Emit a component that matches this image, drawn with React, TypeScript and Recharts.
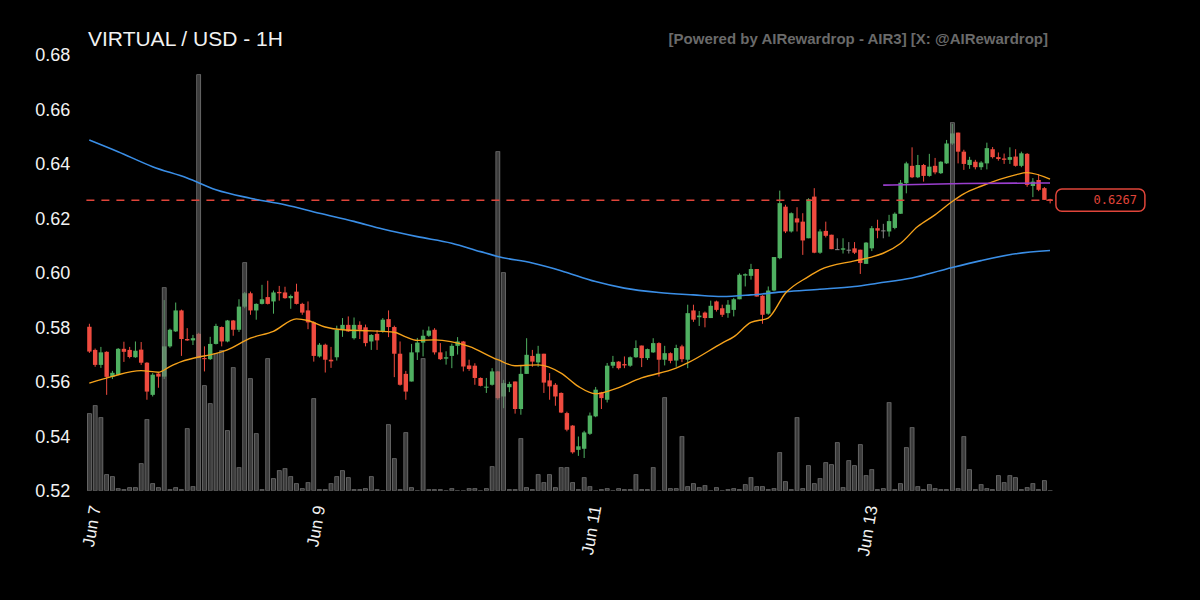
import React from "react";
import { ComposedChart, Bar, Line, XAxis, YAxis, ReferenceLine } from "recharts";

// ---- data (hourly candles, VIRTUAL / USD) ----
const opens = [
  0.5802, 0.5717, 0.5662, 0.5710, 0.5618, 0.5626, 0.5721, 0.5717, 0.5690, 0.5718,
  0.5670, 0.5552, 0.5630, 0.5619, 0.5730, 0.5785, 0.5862, 0.5757, 0.5752, 0.5776,
  0.5687, 0.5683, 0.5739, 0.5801, 0.5748, 0.5825, 0.5791, 0.5876, 0.5925, 0.5862,
  0.5886, 0.5911, 0.5895, 0.5930, 0.5928, 0.5907, 0.5931, 0.5886, 0.5862, 0.5818,
  0.5693, 0.5736, 0.5681, 0.5690, 0.5791, 0.5809, 0.5760, 0.5809, 0.5800, 0.5748,
  0.5776, 0.5785, 0.5830, 0.5801, 0.5703, 0.5629, 0.5601, 0.5708, 0.5744, 0.5769,
  0.5791, 0.5708, 0.5685, 0.5695, 0.5732, 0.5748, 0.5660, 0.5659, 0.5614, 0.5579,
  0.5589, 0.5638, 0.5546, 0.5580, 0.5601, 0.5500, 0.5629, 0.5695, 0.5671, 0.5703,
  0.5605, 0.5589, 0.5559, 0.5485, 0.5439, 0.5350, 0.5354, 0.5409, 0.5473, 0.5561,
  0.5534, 0.5659, 0.5674, 0.5665, 0.5659, 0.5690, 0.5733, 0.5687, 0.5708, 0.5742,
  0.5681, 0.5705, 0.5678, 0.5730, 0.5681, 0.5862, 0.5837, 0.5854, 0.5834, 0.5895,
  0.5870, 0.5852, 0.5864, 0.5903, 0.5990, 0.5989, 0.6014, 0.5916, 0.5850, 0.5935,
  0.6054, 0.6243, 0.6152, 0.6200, 0.6188, 0.6127, 0.6280, 0.6074, 0.6154, 0.6140,
  0.6087, 0.6085, 0.6085, 0.6090, 0.6085, 0.6033, 0.6090, 0.6164, 0.6156, 0.6152,
  0.6165, 0.6217, 0.6329, 0.6393, 0.6351, 0.6396, 0.6356, 0.6393, 0.6366, 0.6402,
  0.6475, 0.6515, 0.6445, 0.6396, 0.6408, 0.6388, 0.6402, 0.6454, 0.6425, 0.6420,
  0.6415, 0.6427, 0.6393, 0.6437, 0.6319, 0.6341, 0.6311, 0.6270,
];
const highs = [
  0.5813, 0.5722, 0.5728, 0.5712, 0.5640, 0.5724, 0.5747, 0.5728, 0.5748, 0.5746,
  0.5672, 0.5632, 0.5632, 0.5900, 0.5795, 0.5891, 0.5865, 0.5797, 0.5772, 0.5780,
  0.5730, 0.5765, 0.5813, 0.5803, 0.5827, 0.5827, 0.5903, 0.5930, 0.5931, 0.5888,
  0.5956, 0.5971, 0.5935, 0.5952, 0.5949, 0.5920, 0.5960, 0.5890, 0.5895, 0.5822,
  0.5742, 0.5740, 0.5728, 0.5806, 0.5834, 0.5840, 0.5836, 0.5822, 0.5810, 0.5775,
  0.5790, 0.5834, 0.5862, 0.5806, 0.5748, 0.5640, 0.5739, 0.5761, 0.5791, 0.5803,
  0.5797, 0.5742, 0.5712, 0.5740, 0.5764, 0.5750, 0.5681, 0.5668, 0.5616, 0.5614,
  0.5650, 0.5640, 0.5607, 0.5600, 0.5601, 0.5662, 0.5760, 0.5717, 0.5732, 0.5703,
  0.5632, 0.5595, 0.5561, 0.5490, 0.5441, 0.5399, 0.5420, 0.5487, 0.5581, 0.5563,
  0.5669, 0.5695, 0.5676, 0.5693, 0.5693, 0.5752, 0.5733, 0.5722, 0.5760, 0.5745,
  0.5732, 0.5708, 0.5736, 0.5736, 0.5883, 0.5883, 0.5860, 0.5858, 0.5898, 0.5898,
  0.5883, 0.5900, 0.5908, 0.5998, 0.5998, 0.6033, 0.6014, 0.5918, 0.5950, 0.6058,
  0.6302, 0.6250, 0.6222, 0.6241, 0.6219, 0.6274, 0.6311, 0.6160, 0.6188, 0.6140,
  0.6127, 0.6127, 0.6113, 0.6113, 0.6085, 0.6113, 0.6172, 0.6195, 0.6180, 0.6213,
  0.6222, 0.6341, 0.6408, 0.6461, 0.6433, 0.6400, 0.6437, 0.6422, 0.6410, 0.6488,
  0.6547, 0.6515, 0.6452, 0.6426, 0.6415, 0.6410, 0.6478, 0.6462, 0.6442, 0.6438,
  0.6461, 0.6454, 0.6445, 0.6440, 0.6348, 0.6363, 0.6315, 0.6272,
];
const lows = [
  0.5706, 0.5655, 0.5651, 0.5552, 0.5610, 0.5624, 0.5673, 0.5686, 0.5688, 0.5662,
  0.5534, 0.5546, 0.5578, 0.5610, 0.5725, 0.5783, 0.5695, 0.5750, 0.5735, 0.5687,
  0.5638, 0.5680, 0.5737, 0.5730, 0.5745, 0.5769, 0.5783, 0.5870, 0.5846, 0.5828,
  0.5884, 0.5884, 0.5850, 0.5898, 0.5905, 0.5868, 0.5884, 0.5846, 0.5793, 0.5674,
  0.5689, 0.5634, 0.5651, 0.5678, 0.5765, 0.5783, 0.5755, 0.5757, 0.5730, 0.5717,
  0.5717, 0.5780, 0.5764, 0.5617, 0.5586, 0.5534, 0.5601, 0.5680, 0.5693, 0.5765,
  0.5700, 0.5680, 0.5663, 0.5650, 0.5700, 0.5638, 0.5640, 0.5589, 0.5583, 0.5559,
  0.5586, 0.5534, 0.5503, 0.5562, 0.5483, 0.5479, 0.5629, 0.5655, 0.5655, 0.5559,
  0.5534, 0.5512, 0.5485, 0.5418, 0.5336, 0.5328, 0.5320, 0.5405, 0.5470, 0.5500,
  0.5524, 0.5650, 0.5645, 0.5650, 0.5655, 0.5688, 0.5654, 0.5680, 0.5706, 0.5619,
  0.5660, 0.5668, 0.5655, 0.5672, 0.5650, 0.5820, 0.5805, 0.5800, 0.5834, 0.5858,
  0.5838, 0.5835, 0.5840, 0.5903, 0.5950, 0.5975, 0.5913, 0.5813, 0.5846, 0.5932,
  0.6050, 0.6146, 0.6148, 0.6152, 0.6066, 0.6127, 0.6072, 0.6070, 0.6130, 0.6087,
  0.6085, 0.6071, 0.6071, 0.6069, 0.5996, 0.6033, 0.6080, 0.6127, 0.6127, 0.6133,
  0.6160, 0.6217, 0.6292, 0.6348, 0.6348, 0.6335, 0.6353, 0.6362, 0.6363, 0.6400,
  0.6470, 0.6402, 0.6378, 0.6382, 0.6380, 0.6378, 0.6380, 0.6420, 0.6412, 0.6400,
  0.6400, 0.6390, 0.6388, 0.6316, 0.6278, 0.6300, 0.6268, 0.6255,
];
const closes = [
  0.5711, 0.5662, 0.5708, 0.5618, 0.5633, 0.5721, 0.5710, 0.5691, 0.5714, 0.5670,
  0.5564, 0.5626, 0.5619, 0.5730, 0.5791, 0.5862, 0.5757, 0.5752, 0.5760, 0.5687,
  0.5683, 0.5739, 0.5805, 0.5748, 0.5825, 0.5791, 0.5876, 0.5925, 0.5862, 0.5886,
  0.5903, 0.5886, 0.5928, 0.5925, 0.5907, 0.5915, 0.5886, 0.5854, 0.5818, 0.5695,
  0.5736, 0.5681, 0.5675, 0.5791, 0.5809, 0.5785, 0.5809, 0.5791, 0.5742, 0.5772,
  0.5752, 0.5828, 0.5801, 0.5703, 0.5589, 0.5564, 0.5708, 0.5744, 0.5769, 0.5788,
  0.5708, 0.5683, 0.5690, 0.5732, 0.5748, 0.5656, 0.5647, 0.5614, 0.5585, 0.5582,
  0.5638, 0.5540, 0.5595, 0.5592, 0.5500, 0.5629, 0.5699, 0.5674, 0.5703, 0.5597,
  0.5583, 0.5546, 0.5487, 0.5424, 0.5341, 0.5363, 0.5414, 0.5476, 0.5571, 0.5540,
  0.5659, 0.5673, 0.5650, 0.5660, 0.5690, 0.5724, 0.5687, 0.5720, 0.5742, 0.5681,
  0.5705, 0.5677, 0.5724, 0.5683, 0.5852, 0.5828, 0.5843, 0.5834, 0.5879, 0.5864,
  0.5846, 0.5883, 0.5903, 0.5993, 0.5995, 0.6014, 0.5913, 0.5846, 0.5935, 0.6058,
  0.6256, 0.6152, 0.6219, 0.6185, 0.6119, 0.6270, 0.6074, 0.6152, 0.6136, 0.6087,
  0.6087, 0.6090, 0.6085, 0.6074, 0.6036, 0.6111, 0.6164, 0.6155, 0.6156, 0.6190,
  0.6217, 0.6331, 0.6402, 0.6351, 0.6396, 0.6356, 0.6390, 0.6369, 0.6408, 0.6475,
  0.6512, 0.6445, 0.6400, 0.6415, 0.6388, 0.6405, 0.6458, 0.6425, 0.6418, 0.6415,
  0.6425, 0.6393, 0.6439, 0.6323, 0.6335, 0.6305, 0.6268, 0.6267,
];
const volumes = [
  77, 85, 73, 16, 14, 2, 1, 3, 3, 27,
  71, 7, 3, 203, 1, 3, 1, 62, 4, 416,
  105, 87, 137, 140, 60, 123, 23, 228, 112, 57,
  1, 132, 12, 20, 22, 14, 7, 2, 8, 92,
  1, 1, 7, 14, 20, 13, 1, 1, 2, 14,
  1, 0, 66, 32, 1, 58, 3, 0, 132, 1,
  1, 1, 0, 2, 0, 0, 2, 2, 0, 2,
  24, 339, 218, 1, 1, 52, 3, 1, 16, 8,
  16, 3, 23, 23, 8, 1, 13, 4, 0, 1,
  2, 0, 2, 1, 1, 16, 1, 1, 23, 0,
  93, 2, 2, 54, 4, 7, 3, 5, 0, 3,
  0, 1, 2, 1, 6, 13, 4, 4, 1, 2,
  38, 9, 1, 73, 2, 25, 7, 12, 28, 26,
  48, 3, 30, 25, 46, 15, 21, 1, 2, 88,
  1, 7, 43, 63, 4, 1, 6, 2, 1, 1,
  368, 2, 54, 21, 1, 6, 2, 1, 15, 8,
  15, 13, 1, 3, 7, 1, 10, 0,
];
// [candle index, value] samples
const emaPoints: [number, number][] = [
  [0, 0.5595], [4, 0.562], [9, 0.5641], [12, 0.5635], [14, 0.5656], [16, 0.5674],
  [19, 0.5691], [21, 0.5699], [24, 0.5717], [28, 0.576], [32, 0.5785], [36, 0.5831],
  [38, 0.5825], [41, 0.5801], [44, 0.5791], [49, 0.5787], [53, 0.5782], [55, 0.5765],
  [57, 0.5752], [60, 0.5754], [66, 0.573], [71, 0.5681], [74, 0.5659], [78, 0.5662],
  [82, 0.5632], [85, 0.5583], [88, 0.5556], [91, 0.5571], [96, 0.5614], [102, 0.565],
  [104, 0.5669], [110, 0.5742], [112, 0.5765], [115, 0.5818], [118, 0.5834], [121, 0.5925],
  [125, 0.5986], [127, 0.6011], [133, 0.6044], [136, 0.6058], [138, 0.6072], [141, 0.6108],
  [144, 0.617], [147, 0.6213], [150, 0.6262], [152, 0.629], [155, 0.6318], [161, 0.636],
  [163, 0.6368], [167, 0.6344],
];
const smaPoints: [number, number][] = [
  [0, 0.6488], [5, 0.6445], [11, 0.639], [17, 0.6348], [22, 0.6305], [28, 0.6274],
  [34, 0.625], [40, 0.6219], [46, 0.6189], [51, 0.6161], [57, 0.6133], [63, 0.6109],
  [68, 0.6078], [71, 0.606], [77, 0.6036], [82, 0.6008], [88, 0.5968], [93, 0.5944],
  [99, 0.5928], [105, 0.5919], [110, 0.5913], [115, 0.5919], [121, 0.5931], [127, 0.594],
  [133, 0.595], [137, 0.5962], [143, 0.5981], [149, 0.6014], [155, 0.6045], [161, 0.607],
  [167, 0.6082],
];
const levelPoints: [number, number][] = [[138, 0.6322], [152, 0.6328], [167, 0.633]];
const tickIndex = [1, 40, 88, 136];
const tickLabels = ["Jun 7", "Jun 9", "Jun 11", "Jun 13"];
const priceTicks = [0.52, 0.54, 0.56, 0.58, 0.6, 0.62, 0.64, 0.66, 0.68];
const lastPrice = 0.6267;

const GREEN = "#4fb061";
const RED = "#ef4b3f";
const DOJI = "#8a8a8a";
const FONT = "'Liberation Sans', Arial, Helvetica, sans-serif";

const emaMap = new Map(emaPoints);
const smaMap = new Map(smaPoints);
const levelMap = new Map(levelPoints);

const data = opens.map((o, i) => ({
  i,
  open: o,
  high: highs[i],
  low: lows[i],
  close: closes[i],
  range: [lows[i], highs[i]],
  vol: volumes[i],
  ema: emaMap.has(i) ? emaMap.get(i) : null,
  sma: smaMap.has(i) ? smaMap.get(i) : null,
  level: levelMap.has(i) ? levelMap.get(i) : null,
}));

const Candle = (props: any) => {
  const { x, y, width, height, payload } = props;
  if (x == null || y == null || !payload) return null;
  const top = Math.min(y, y + height);
  const h = Math.abs(height);
  const { open, close, high, low } = payload;
  const k = h / (high - low || 1);
  const yO = top + (high - open) * k;
  const yC = top + (high - close) * k;
  const cx = x + width / 2;
  const color = close > open ? GREEN : close < open ? RED : DOJI;
  const bTop = Math.min(yO, yC);
  const bH = Math.max(1, Math.abs(yC - yO));
  return (
    <g>
      <line x1={cx} x2={cx} y1={top} y2={top + h} stroke={color} strokeWidth={1} />
      <rect x={cx - 2.2} y={bTop} width={4.4} height={bH} fill={color} />
    </g>
  );
};

const VolBar = (props: any) => {
  const { x, y, width, height } = props;
  if (x == null || y == null) return null;
  const h = Math.max(Math.abs(height || 0), 0.8);
  const top = Math.min(y, y + (height || 0));
  return (
    <rect
      x={x + width / 2 - 2}
      y={top}
      width={4}
      height={h}
      fill="rgba(110,110,110,0.55)"
      stroke="rgba(165,165,165,0.7)"
      strokeWidth={0.7}
    />
  );
};

const DateTick = (props: any) => {
  const { x, y, payload } = props;
  const idx = tickIndex.indexOf(payload.value);
  const label = idx >= 0 ? tickLabels[idx] : "";
  return (
    <g transform={`translate(${x},${y + 15})`}>
      <text
        transform="rotate(-80)"
        textAnchor="end"
        dy="0.35em"
        fill="#f2f2f2"
        fontSize={17}
        fontFamily={FONT}
      >
        {label}
      </text>
    </g>
  );
};

const PriceTag = (props: any) => {
  const vb = props.viewBox || {};
  const right = (vb.x || 0) + (vb.width || 0);
  const ly = vb.y || 0;
  const bx = right + 3;
  return (
    <g>
      <rect x={bx} y={ly - 11.2} width={89} height={22.4} rx={6} ry={6} fill="#000" stroke="#e0453a" strokeWidth={1.5} />
      <text
        x={bx + 81}
        y={ly}
        dy="0.35em"
        textAnchor="end"
        fill="#e0453a"
        fontSize={12}
        fontFamily="'DejaVu Sans Mono', monospace"
      >
        {lastPrice.toFixed(4)}
      </text>
    </g>
  );
};

export default function App() {
  return (
    <div style={{ position: "absolute", left: 0, top: 0, width: 1200, height: 600, background: "#000", overflow: "hidden" }}>
      <ComposedChart
        width={1200}
        height={600}
        data={data}
        margin={{ top: 55, right: 147.1, bottom: 79.3, left: 26.4 }}
      >
        <XAxis
          xAxisId="main"
          dataKey="i"
          type="category"
          ticks={tickIndex}
          interval={0}
          tick={<DateTick />}
          tickLine={false}
          axisLine={false}
          tickSize={0}
          tickMargin={0}
          height={30}
        />
        <XAxis xAxisId="vol" dataKey="i" type="category" hide />
        <YAxis
          yAxisId="price"
          domain={[0.52, 0.68]}
          ticks={priceTicks}
          allowDataOverflow
          width={60}
          tickLine={false}
          axisLine={false}
          tickSize={0}
          tickMargin={16}
          tickFormatter={(v: number) => v.toFixed(2)}
          tick={{ fill: "#f2f2f2", fontSize: 18, fontFamily: FONT }}
        />
        <YAxis yAxisId="vol" domain={[0, 435.7]} hide allowDataOverflow />
        <ReferenceLine
          xAxisId="main"
          yAxisId="price"
          y={lastPrice}
          stroke="#e0453a"
          strokeWidth={1.5}
          strokeDasharray="8 7"
          label={{ content: (p: any) => <PriceTag viewBox={p.viewBox} /> }}
        />
        <Bar
          xAxisId="main"
          yAxisId="price"
          dataKey="range"
          barSize={4}
          shape={<Candle />}
          isAnimationActive={false}
        />
        <Line
          xAxisId="main"
          yAxisId="price"
          dataKey="sma"
          type="monotone"
          connectNulls
          dot={false}
          stroke="#3a8ee6"
          strokeWidth={1.6}
          isAnimationActive={false}
        />
        <Line
          xAxisId="main"
          yAxisId="price"
          dataKey="ema"
          type="monotone"
          connectNulls
          dot={false}
          stroke="#f5a21b"
          strokeWidth={1.4}
          isAnimationActive={false}
        />
        <Line
          xAxisId="main"
          yAxisId="price"
          dataKey="level"
          type="monotone"
          connectNulls
          dot={false}
          stroke="#9b3fcf"
          strokeWidth={1.6}
          isAnimationActive={false}
        />
        <Bar
          xAxisId="vol"
          yAxisId="vol"
          dataKey="vol"
          barSize={4}
          shape={<VolBar />}
          isAnimationActive={false}
        />
      </ComposedChart>
      <svg width={1200} height={600} style={{ position: "absolute", left: 0, top: 0, pointerEvents: "none" }}>
        <text x={88} y={46} fill="#f2f2f2" fontSize={21} fontFamily={FONT}>
          VIRTUAL / USD - 1H
        </text>
        <text x={1048} y={44} textAnchor="end" fill="#6a6a6a" fontSize={15} fontWeight="bold" fontFamily={FONT}>
          [Powered by AIRewardrop - AIR3] [X: @AIRewardrop]
        </text>
      </svg>
    </div>
  );
}
